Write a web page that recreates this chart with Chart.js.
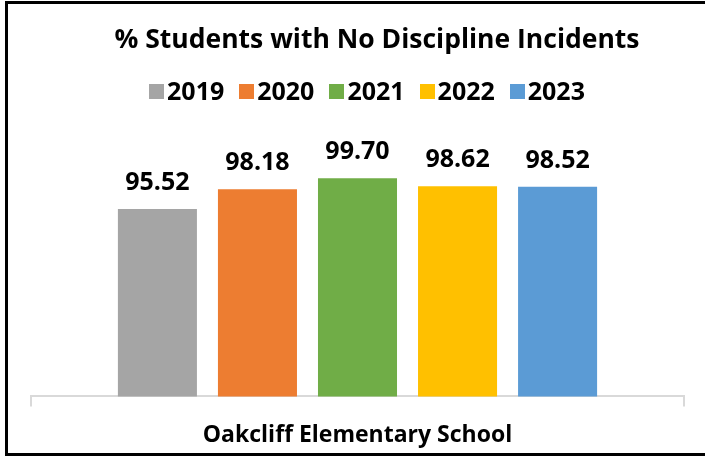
<!DOCTYPE html>
<html>
<head>
<meta charset="utf-8">
<title>% Students with No Discipline Incidents</title>
<script src="https://cdn.jsdelivr.net/npm/chart.js@4.4.0/dist/chart.umd.min.js"></script>
<style>
  html, body { margin: 0; padding: 0; background: #fff; overflow: hidden; }
  #wrap { position: relative; width: 705px; height: 456px; }
  #frame { position: absolute; left: 5px; top: 1px; width: 720px; height: 449px; border: 3px solid #000; pointer-events: none; }
</style>
</head>
<body>
<div id="wrap">
  <canvas id="myChart" width="705" height="456"></canvas>
  <div id="frame"></div>
</div>
<script>
const chartTitle = '% Students with No Discipline Incidents';
const school = ['Oakcliff Elementary School'];
const years = ['2019', '2020', '2021', '2022', '2023'];
const pctNoIncidents = [95.52, 98.18, 99.70, 98.62, 98.52];
const barColors = ['#A5A5A5', '#ED7D31', '#70AD47', '#FFC000', '#5B9BD5'];
const yMin = 70;
const yMax = 100;

Chart.defaults.font.family = '"Open Sans", sans-serif';
Chart.defaults.color = '#000';

// numbers above each bar
const valueLabels = {
  id: 'valueLabels',
  afterDatasetsDraw(chart) {
    const ctx = chart.ctx;
    ctx.save();
    ctx.font = 'bold 25px "Open Sans"';
    ctx.fillStyle = '#000';
    ctx.textAlign = 'center';
    ctx.textBaseline = 'alphabetic';
    chart.data.datasets.forEach((ds, i) => {
      chart.getDatasetMeta(i).data.forEach((bar, j) => {
        ctx.fillText(ds.data[j].toFixed(2), bar.x, bar.y - 19);
      });
    });
    ctx.restore();
  }
};

// title + legend (excel puts them a bit right of the plot centre)
const header = {
  id: 'header',
  afterDraw(chart) {
    const ctx = chart.ctx;
    ctx.save();
    ctx.fillStyle = '#000';
    ctx.textBaseline = 'alphabetic';
    ctx.font = 'bold 26.5px "Open Sans"';
    ctx.textAlign = 'center';
    ctx.fillText(chartTitle, 377, 48);

    ctx.font = 'bold 25px "Open Sans"';
    ctx.textAlign = 'left';
    const box = 15, gap = 3, spacing = 15;
    const widths = chart.data.datasets.map(ds => ctx.measureText(ds.label).width);
    const total = widths.reduce((s, w) => s + box + gap + w, 0) + spacing * (widths.length - 1);
    let x = 367 - total / 2;
    chart.data.datasets.forEach((ds, i) => {
      ctx.fillStyle = ds.backgroundColor;
      ctx.fillRect(Math.round(x), 84, box, box);
      ctx.fillStyle = '#000';
      ctx.fillText(ds.label, x + box + gap, 100);
      x += box + gap + widths[i] + spacing;
    });
    ctx.restore();
  }
};

const ctx = document.getElementById('myChart').getContext('2d');

new Chart(ctx, {
  type: 'bar',
  data: {
    labels: school,
    datasets: years.map((yr, i) => ({
      label: yr,
      data: [pctNoIncidents[i]],
      backgroundColor: barColors[i],
      borderWidth: 0
    }))
  },
  options: {
    responsive: false,
    animation: false,
    categoryPercentage: 0.766,
    barPercentage: 0.79,
    layout: {
      padding: { top: 176, left: 31, right: 21, bottom: -8 }
    },
    plugins: {
      legend: { display: false },
      title: { display: false },
      tooltip: { enabled: false }
    },
    scales: {
      x: {
        grid: {
          drawOnChartArea: false,
          drawTicks: true,
          tickLength: 10,
          color: '#d9d9d9',
          lineWidth: 2
        },
        border: { display: true, color: '#d9d9d9', width: 2 },
        ticks: {
          padding: 15,
          color: '#000',
          font: { size: 23, weight: 'bold' }
        }
      },
      y: {
        display: false,
        min: yMin,
        max: yMax
      }
    }
  },
  plugins: [valueLabels, header]
});
</script>
</body>
</html>
